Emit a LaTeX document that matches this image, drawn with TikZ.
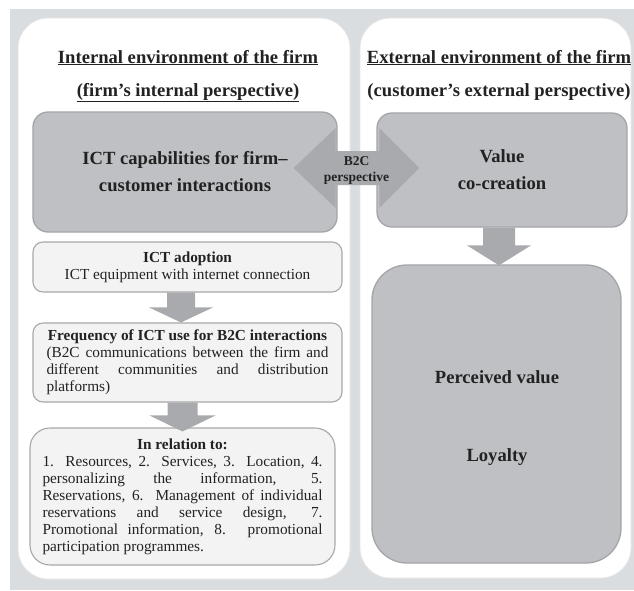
\documentclass[tikz,border=0pt]{standalone}
\usepackage{fontspec}
\setmainfont{Liberation Serif}
\usetikzlibrary{calc}
\definecolor{bggray}{HTML}{DADDE0}
\definecolor{boxgray}{HTML}{BEC0C3}
\definecolor{boxedge}{HTML}{A3A5A8}
\definecolor{arrgray}{HTML}{A8AAAD}
\definecolor{lightbox}{HTML}{F3F3F3}
\definecolor{lightedge}{HTML}{A8A8A8}
\definecolor{txt}{HTML}{222222}
\newcommand\fsBig{\fontsize{18.6}{27}\selectfont}
\newcommand\fsSmall{\fontsize{15.3}{17}\selectfont}
\newcommand\fsTiny{\fontsize{13.5}{16}\selectfont}
\begin{document}
\begin{tikzpicture}[x=1pt,y=-1pt,
  panel/.style={draw=black!10, line width=0.8pt, fill=white, rounded corners=30pt, inner sep=0pt},
  bigbox/.style={draw=boxedge, line width=1.3pt, fill=boxgray, rounded corners=15pt, inner sep=0pt, text=txt, font=\fsBig\bfseries},
  lbox/.style={draw=lightedge, line width=1.1pt, fill=lightbox, rounded corners=10pt, inner sep=0pt, text=txt, font=\fsSmall},
  head/.style={text=txt, font=\fsBig\bfseries, inner sep=0pt, anchor=base},
  blockarr/.style={fill=arrgray, draw=none}
]
\useasboundingbox (0,0) rectangle (634,590);
\fill[bggray] (10,9) rectangle (634,590);

% panels
\node[panel, minimum width=332pt, minimum height=561pt] (lp) at (184,298.5) {};
\node[panel, minimum width=271pt, minimum height=560pt] (rp) at (495.5,298) {};

% headings
\node[head] (h1) at (188,63) {\underline{Internal environment of the firm}};
\node[head] (h2) at (188,96) {\underline{(firm's internal perspective)}};
\node[head] (h3) at (499,63) {\underline{External environment of the firm}};
\node[head] (h4) at (499,96) {(customer's external perspective)};

% big boxes
\node[bigbox, minimum width=304pt, minimum height=120pt, align=center] (caps) at (185,172)
  {ICT capabilities for firm--\\customer interactions};
\node[bigbox, minimum width=250pt, minimum height=114pt, align=center] (value) at (502,170)
  {Value\\co-creation};
\node[bigbox, rounded corners=35pt, minimum width=249pt, minimum height=298pt] (perc) at (496.5,414) {};
\node[text=txt, font=\fsBig\bfseries] (pv) at (497,377) {Perceived value};
\node[text=txt, font=\fsBig\bfseries] (loy) at (497,457) {Loyalty};

% light boxes
\node[lbox, minimum width=309pt, minimum height=50pt, align=center] (adopt) at (187.5,267)
  {\textbf{ICT adoption}\\ICT equipment with internet connection};
\node[lbox, minimum width=309pt, minimum height=79pt] (freq) at (187.5,362.5)
  {\parbox{282pt}{{\centering\textbf{Frequency of ICT use for B2C interactions}\par}
  (B2C communications between the firm and\linebreak
  different communities and distribution\linebreak
  platforms)}};
\node[lbox, rounded corners=20pt, minimum width=305pt, minimum height=137pt] (rel) at (182.5,496.5)
  {\parbox{280pt}{{\centering\textbf{In relation to:}\par}
  1. Resources, 2. Services, 3. Location, 4.\linebreak
  personalizing the information, 5.\linebreak
  Reservations, 6. Management of individual\linebreak
  reservations and service design, 7.\linebreak
  Promotional information, 8. promotional\linebreak
  participation programmes.}};

% down arrows
\coordinate (a1s) at ($(adopt.south)+(-6.5,0)$);
\coordinate (a1e) at ($(freq.north)+(-6.5,0)$);
\fill[blockarr] ($(a1s)+(-14,0)$) -- ($(a1s)+(14,0)$) -- ($(a1e)+(14,-15)$) -- ($(a1e)+(32,-15)$)
  -- (a1e) -- ($(a1e)+(-32,-15)$) -- ($(a1e)+(-14,-15)$) -- cycle;
\coordinate (a2s) at ($(freq.south)+(-5,0)$);
\coordinate (a2e) at ($(rel.north)+(0,4)$);
\fill[blockarr] ($(a2s)+(-15,0)$) -- ($(a2s)+(15,0)$) -- ($(a2e)+(15,-16)$) -- ($(a2e)+(33,-16)$)
  -- (a2e) -- ($(a2e)+(-33,-16)$) -- ($(a2e)+(-15,-16)$) -- cycle;
\coordinate (a3s) at ($(value.south)+(-3,0)$);
\coordinate (a3e) at ($(perc.north)+(2.5,1)$);
\fill[blockarr] ($(a3s)+(-16,0)$) -- ($(a3s)+(16,0)$) -- ($(a3e)+(16,-20)$) -- ($(a3e)+(32,-20)$)
  -- (a3e) -- ($(a3e)+(-32,-20)$) -- ($(a3e)+(-16,-20)$) -- cycle;

% double arrow B2C
\coordinate (dl) at ($(caps.east)+(-44,-4)$);
\coordinate (dr) at ($(value.west)+(43,-2)$);
\fill[blockarr] (dl) -- ($(dl)+(42,-40)$) -- ($(dl)+(42,-17)$) -- ($(dr)+(-40,-17)$) -- ($(dr)+(-40,-40)$)
  -- (dr) -- ($(dr)+(-40,40)$) -- ($(dr)+(-40,17)$) -- ($(dl)+(42,17)$) -- ($(dl)+(42,40)$) -- cycle;
\node[text=txt, font=\fsTiny\bfseries, align=center, inner sep=0pt] (b2c) at ($(dl)!0.5!(dr)+(0,2)$) {B2C\\perspective};
\end{tikzpicture}
\end{document}
